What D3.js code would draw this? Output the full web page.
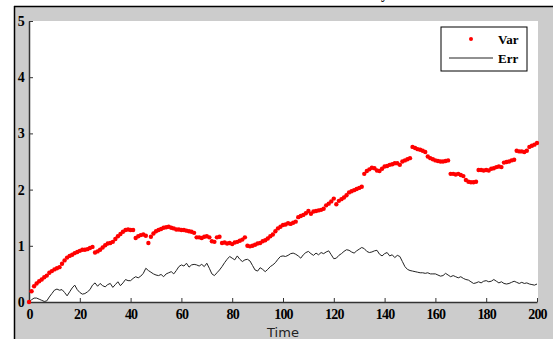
<!DOCTYPE html>
<html>
<head>
<meta charset="utf-8">
<script src="https://cdn.jsdelivr.net/npm/d3@7"></script>
<style>
  body { margin: 0; background: #fff; }
  svg { display: block; }
</style>
</head>
<body>
<script>
// Var series (red dots), one value per time step t = 0..200
const varValues = [
  0.00, 0.19, 0.28, 0.33, 0.37, 0.40, 0.44, 0.47, 0.52, 0.55,
  0.58, 0.60, 0.62, 0.68, 0.74, 0.79, 0.82, 0.84, 0.87, 0.89,
  0.91, 0.93, 0.93, 0.94, 0.96, 0.98, 0.88, 0.90, 0.93, 0.97,
  1.01, 1.04, 1.05, 1.07, 1.12, 1.17, 1.21, 1.25, 1.28, 1.29,
  1.28, 1.28, 1.14, 1.17, 1.19, 1.20, 1.18, 1.05, 1.16, 1.22,
  1.26, 1.28, 1.30, 1.32, 1.33, 1.34, 1.32, 1.31, 1.29, 1.29,
  1.28, 1.28, 1.27, 1.26, 1.25, 1.23, 1.15, 1.15, 1.14, 1.16,
  1.17, 1.15, 1.08, 1.07, 1.15, 1.16, 1.05, 1.06, 1.04, 1.05,
  1.03, 1.06, 1.07, 1.09, 1.11, 1.15, 1.00, 0.99, 1.00, 1.02,
  1.04, 1.05, 1.08, 1.10, 1.13, 1.17, 1.20, 1.26, 1.31, 1.34,
  1.37, 1.38, 1.40, 1.39, 1.41, 1.43, 1.51, 1.53, 1.55, 1.58,
  1.62, 1.57, 1.61, 1.62, 1.63, 1.64, 1.66, 1.72, 1.75, 1.79,
  1.84, 1.74, 1.80, 1.83, 1.86, 1.90, 1.95, 1.97, 1.99, 2.01,
  2.03, 2.05, 2.28, 2.33, 2.36, 2.39, 2.38, 2.34, 2.33, 2.37,
  2.41, 2.42, 2.44, 2.45, 2.47, 2.47, 2.44, 2.50, 2.52, 2.54,
  2.56, 2.76, 2.74, 2.72, 2.71, 2.69, 2.67, 2.59, 2.56, 2.54,
  2.52, 2.51, 2.50, 2.50, 2.51, 2.52, 2.28, 2.28, 2.27, 2.28,
  2.26, 2.24, 2.17, 2.14, 2.13, 2.13, 2.14, 2.35, 2.35, 2.34,
  2.35, 2.34, 2.37, 2.38, 2.40, 2.41, 2.40, 2.48, 2.49, 2.50,
  2.52, 2.53, 2.69, 2.68, 2.68, 2.67, 2.69, 2.76, 2.78, 2.80,
  2.83
];

// Err series (black line), t = 0..200
const errValues = [
  0.00, 0.04, 0.07, 0.07, 0.05, 0.03, 0.01, 0.02, 0.09, 0.15,
  0.21, 0.23, 0.21, 0.22, 0.17, 0.11, 0.18, 0.25, 0.30, 0.22,
  0.17, 0.14, 0.15, 0.18, 0.22, 0.30, 0.34, 0.28, 0.33, 0.29,
  0.27, 0.31, 0.33, 0.26, 0.31, 0.36, 0.29, 0.34, 0.40, 0.38,
  0.38, 0.42, 0.45, 0.43, 0.46, 0.51, 0.60, 0.56, 0.53, 0.50,
  0.48, 0.47, 0.49, 0.45, 0.50, 0.52, 0.54, 0.50, 0.56, 0.63,
  0.66, 0.64, 0.69, 0.62, 0.66, 0.67, 0.66, 0.64, 0.67, 0.63,
  0.69, 0.60, 0.50, 0.47, 0.52, 0.57, 0.63, 0.70, 0.76, 0.81,
  0.78, 0.75, 0.82, 0.76, 0.72, 0.75, 0.76, 0.73, 0.65, 0.57,
  0.55, 0.61, 0.58, 0.54, 0.58, 0.63, 0.66, 0.70, 0.76, 0.81,
  0.82, 0.81, 0.83, 0.86, 0.87, 0.85, 0.82, 0.78, 0.84, 0.88,
  0.90, 0.86, 0.83, 0.87, 0.84, 0.88, 0.86, 0.89, 0.91, 0.84,
  0.77, 0.78, 0.83, 0.86, 0.90, 0.93, 0.92, 0.89, 0.87, 0.91,
  0.94, 0.97, 0.95, 0.90, 0.88, 0.89, 0.91, 0.92, 0.85, 0.82,
  0.86, 0.88, 0.82, 0.84, 0.79, 0.83, 0.81, 0.72, 0.63, 0.58,
  0.56, 0.55, 0.54, 0.53, 0.52, 0.52, 0.51, 0.52, 0.50, 0.50,
  0.50, 0.48, 0.46, 0.47, 0.51, 0.48, 0.45, 0.47, 0.45, 0.43,
  0.45, 0.42, 0.40, 0.39, 0.36, 0.33, 0.34, 0.36, 0.34, 0.37,
  0.38, 0.36, 0.37, 0.40, 0.37, 0.34, 0.36, 0.33, 0.32, 0.33,
  0.35, 0.37, 0.35, 0.33, 0.35, 0.33, 0.34, 0.32, 0.31, 0.30,
  0.32
];

const xTicks = [0, 20, 40, 60, 80, 100, 120, 140, 160, 180, 200];
const yTicks = [0, 1, 2, 3, 4, 5];
const seriesNames = ["Var", "Err"];

const W = 553, H = 339;
const svg = d3.select("body").append("svg").attr("width", W).attr("height", H);

// figure window (gray) with dark border on top/left
svg.append("rect").attr("x", 14).attr("y", 6).attr("width", W - 14).attr("height", H - 6)
  .attr("fill", "#cccccc");
svg.append("line").attr("x1", 14).attr("x2", W).attr("y1", 6.5).attr("y2", 6.5)
  .attr("stroke", "#000").attr("stroke-width", 1.5);
svg.append("line").attr("x1", 14.5).attr("x2", 14.5).attr("y1", 6).attr("y2", H)
  .attr("stroke", "#000").attr("stroke-width", 1.5);

// title, mostly clipped above the window (only a descender shows, as in the reference)
svg.append("text").attr("x", 388).attr("y", -1).attr("text-anchor", "end")
  .style("font", "bold 14px 'Liberation Serif'").text("Variance and Error History");

const x = d3.scaleLinear().domain([0, 200]).range([29, 537]);
const y = d3.scaleLinear().domain([0, 5]).range([302, 21]);

// plot area
svg.append("rect").attr("x", 29).attr("y", 21).attr("width", 509).attr("height", 281)
  .attr("fill", "#fff");

const tickFont = "bold 14px 'Liberation Serif'";

const gx = svg.append("g").attr("transform", "translate(0,302)")
  .call(d3.axisBottom(x).tickValues(xTicks).tickFormat(d3.format("d"))
    .tickSizeInner(-4).tickSizeOuter(0).tickPadding(7));
const gy = svg.append("g").attr("transform", "translate(29,0)")
  .call(d3.axisLeft(y).tickValues(yTicks).tickFormat(d3.format("d"))
    .tickSizeInner(-4).tickSizeOuter(0).tickPadding(5));

[gx, gy].forEach(g => {
  g.select(".domain").attr("stroke", "#333").attr("stroke-width", 1.5);
  g.selectAll(".tick line").attr("stroke", "#333");
  g.selectAll(".tick text").attr("fill", "#000").style("font", tickFont)
    .style("letter-spacing", "-0.8px");
});

svg.append("text").attr("x", 283).attr("y", 337).attr("text-anchor", "middle")
  .attr("fill", "#222").style("font", "13px 'DejaVu Sans'").text("Time");

// Err line
const line = d3.line().x((d, i) => x(i)).y(d => y(d));
svg.append("path").datum(errValues).attr("d", line)
  .attr("fill", "none").attr("stroke", "#222").attr("stroke-width", 1);

// Var dots
svg.append("g").selectAll("circle").data(varValues).join("circle")
  .attr("cx", (d, i) => x(i)).attr("cy", d => y(d)).attr("r", 2.2)
  .attr("fill", "#ff0000");

// legend
const lg = svg.append("g");
lg.append("rect").attr("x", 441).attr("y", 27).attr("width", 86).attr("height", 44)
  .attr("fill", "#fff").attr("stroke", "#000").attr("stroke-width", 1);
lg.append("circle").attr("cx", 471).attr("cy", 39).attr("r", 2).attr("fill", "#ff0000");
lg.append("line").attr("x1", 449).attr("x2", 493).attr("y1", 58).attr("y2", 58)
  .attr("stroke", "#222").attr("stroke-width", 1);
lg.selectAll("text.lab").data(seriesNames).join("text").attr("class", "lab")
  .attr("x", 498).attr("y", (d, i) => 44 + i * 19)
  .style("font", "bold 13px 'Liberation Serif'").text(d => d);
</script>
</body>
</html>
